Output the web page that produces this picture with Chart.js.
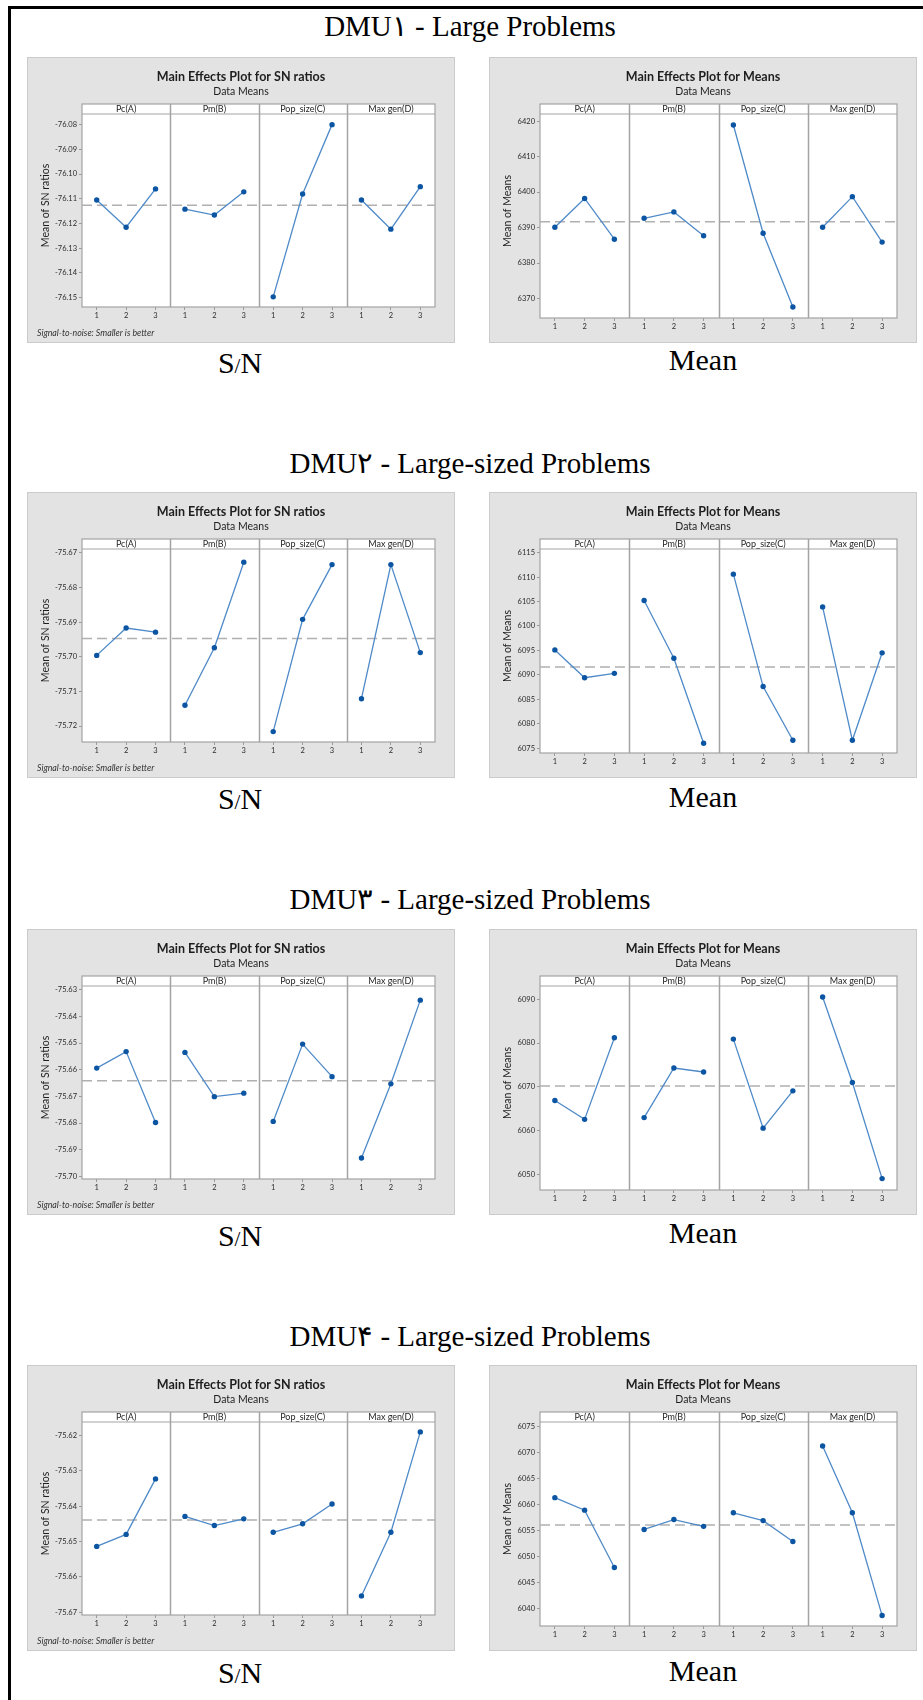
<!DOCTYPE html>
<html>
<head>
<meta charset="utf-8">
<script src="https://cdn.jsdelivr.net/npm/chart.js@4.4.1/dist/chart.umd.min.js"></script>
<style>
	body { margin: 0; background: #fff; width: 923px; height: 1700px; position: relative; overflow: hidden; font-family: 'Liberation Serif', 'Times New Roman', serif; }
	.frame { position: absolute; left: 8px; top: 6px; width: 940px; height: 1720px; border-top: 3px solid #000; border-left: 3px solid #000; }
	.head { position: absolute; left: 0; width: 940px; text-align: center; font-size: 29px; line-height: 30px; color: #000; }
	.lab { position: absolute; width: 200px; text-align: center; font-size: 30px; line-height: 30px; color: #000; }
	.lab small { font-size: 21px; }
	canvas { position: absolute; }
</style>
</head>
<body>
<div class="frame"></div>

<div class="head" style="top:11px">DMU۱ - Large Problems</div>
<div class="head" style="top:448px">DMU۲ - Large-sized Problems</div>
<div class="head" style="top:884px">DMU۳ - Large-sized Problems</div>
<div class="head" style="top:1321px">DMU۴ - Large-sized Problems</div>

<div class="lab" style="left:140px;top:348px">S<small>/</small>N</div>
<div class="lab" style="left:603px;top:345px">Mean</div>
<div class="lab" style="left:140px;top:784px">S<small>/</small>N</div>
<div class="lab" style="left:603px;top:782px">Mean</div>
<div class="lab" style="left:140px;top:1221px">S<small>/</small>N</div>
<div class="lab" style="left:603px;top:1218px">Mean</div>
<div class="lab" style="left:140px;top:1658px">S<small>/</small>N</div>
<div class="lab" style="left:603px;top:1656px">Mean</div>

<canvas id="sn1" width="428" height="286" style="left:27px;top:57px"></canvas>
<canvas id="mean1" width="428" height="286" style="left:489px;top:57px"></canvas>
<canvas id="sn2" width="428" height="286" style="left:27px;top:492px"></canvas>
<canvas id="mean2" width="428" height="286" style="left:489px;top:492px"></canvas>
<canvas id="sn3" width="428" height="286" style="left:27px;top:929px"></canvas>
<canvas id="mean3" width="428" height="286" style="left:489px;top:929px"></canvas>
<canvas id="sn4" width="428" height="286" style="left:27px;top:1365px"></canvas>
<canvas id="mean4" width="428" height="286" style="left:489px;top:1365px"></canvas>

<script>
const factors = ['Pc(A)', 'Pm(B)', 'Pop_size(C)', 'Max gen(D)'];
const levels = ['1', '2', '3'];

// values per panel: A1 A2 A3, B1 B2 B3, C1 C2 C3, D1 D2 D3
const dmu1Sn = [-76.1105, -76.1215, -76.1060, -76.1142, -76.1166, -76.1072, -76.1497, -76.1081, -76.0800, -76.1105, -76.1223, -76.1051];
const dmu1Mean = [6390.1, 6398.2, 6386.7, 6392.6, 6394.4, 6387.7, 6418.9, 6388.4, 6367.6, 6390.1, 6398.7, 6385.9];
const dmu2Sn = [-75.6996, -75.6917, -75.6929, -75.7140, -75.6974, -75.6727, -75.7216, -75.6892, -75.6734, -75.7121, -75.6734, -75.6988];
const dmu2Mean = [6095.1, 6089.4, 6090.3, 6105.2, 6093.4, 6076.0, 6110.6, 6087.6, 6076.6, 6103.9, 6076.6, 6094.5];
const dmu3Sn = [-75.6594, -75.6532, -75.6798, -75.6535, -75.6701, -75.6688, -75.6794, -75.6504, -75.6626, -75.6931, -75.6653, -75.6339];
const dmu3Mean = [6066.9, 6062.6, 6081.2, 6063.0, 6074.3, 6073.4, 6080.9, 6060.6, 6069.1, 6090.5, 6071.0, 6049.1];
const dmu4Sn = [-75.6514, -75.6480, -75.6323, -75.6429, -75.6455, -75.6436, -75.6474, -75.6450, -75.6394, -75.6654, -75.6474, -75.6190];
const dmu4Mean = [6061.3, 6058.9, 6047.9, 6055.2, 6057.1, 6055.8, 6058.4, 6056.9, 6052.9, 6071.2, 6058.4, 6038.7];

const sn1Ticks = [-76.15, -76.14, -76.13, -76.12, -76.11, -76.10, -76.09, -76.08];
const mean1Ticks = [6370, 6380, 6390, 6400, 6410, 6420];
const sn2Ticks = [-75.72, -75.71, -75.70, -75.69, -75.68, -75.67];
const mean2Ticks = [6075, 6080, 6085, 6090, 6095, 6100, 6105, 6110, 6115];
const sn3Ticks = [-75.70, -75.69, -75.68, -75.67, -75.66, -75.65, -75.64, -75.63];
const mean3Ticks = [6050, 6060, 6070, 6080, 6090];
const sn4Ticks = [-75.67, -75.66, -75.65, -75.64, -75.63, -75.62];
const mean4Ticks = [6040, 6045, 6050, 6055, 6060, 6065, 6070, 6075];

const FONT = 'Lato';
Chart.defaults.font.family = FONT;

const panelDecor = {
	id: 'panelDecor',
	beforeDraw(chart) {
		const { ctx, chartArea: a, width, height } = chart;
		ctx.save();
		ctx.fillStyle = '#e3e3e3';
		ctx.fillRect(0, 0, width, height);
		ctx.strokeStyle = '#cbcbcb';
		ctx.lineWidth = 1;
		ctx.strokeRect(0.5, 0.5, width - 1, height - 1);
		ctx.fillStyle = '#fff';
		ctx.fillRect(a.left, a.top - 10, a.right - a.left, a.bottom - a.top + 10);
		ctx.restore();
	},
	beforeDatasetsDraw(chart) {
		const { ctx, chartArea: a, scales } = chart;
		ctx.save();
		ctx.strokeStyle = '#a3a3a3';
		ctx.lineWidth = 1.5;
		[3.5, 6.5, 9.5].forEach((v) => {
			const x = Math.round(scales.x.getPixelForValue(v)) + 0.5;
			ctx.beginPath();
			ctx.moveTo(x, a.top - 10);
			ctx.lineTo(x, a.bottom);
			ctx.stroke();
		});
		ctx.lineWidth = 1.2;
		ctx.strokeRect(a.left, a.top - 10, a.right - a.left, a.bottom - a.top + 10);
		ctx.beginPath();
		ctx.moveTo(a.left, a.top);
		ctx.lineTo(a.right, a.top);
		ctx.stroke();

		ctx.fillStyle = '#1e1e1e';
		ctx.font = `9px ${FONT}`;
		ctx.textAlign = 'center';
		ctx.textBaseline = 'middle';
		factors.forEach((f, i) => {
			ctx.fillText(f, scales.x.getPixelForValue(i * 3 + 2), a.top - 4.5);
		});
		ctx.restore();
	},
	afterDraw(chart) {
		const { ctx, chartArea: a, width } = chart;
		const o = chart.options.plugins.panelDecor;
		ctx.save();
		ctx.fillStyle = '#1e1e1e';
		ctx.textAlign = 'center';
		ctx.textBaseline = 'alphabetic';
		ctx.font = `bold 12.5px ${FONT}`;
		ctx.fillText(o.title, width / 2, 24);
		ctx.font = `10.5px ${FONT}`;
		ctx.fillText('Data Means', width / 2, 38);

		ctx.translate(o.yTitleX, (a.top - 10 + a.bottom) / 2);
		ctx.rotate(-Math.PI / 2);
		ctx.textBaseline = 'middle';
		ctx.font = `10.5px ${FONT}`;
		ctx.fillText(o.yTitle, 0, 0);
		ctx.restore();

		if (o.note) {
			ctx.save();
			ctx.fillStyle = '#333';
			ctx.font = `italic 8.8px ${FONT}`;
			ctx.textBaseline = 'middle';
			ctx.fillText(o.note, 10, 276);
			ctx.restore();
		}
	},
};

function makePanel(id, values, yTicks, yMin, yMax, isSn) {
	const grand = values.reduce((s, v) => s + v, 0) / values.length;
	const xTicks = factors.flatMap((_, i) => levels.map((_, j) => i * 3 + j + 1));

	const datasets = factors.map((f, i) => ({
		label: f,
		data: levels.map((_, j) => ({ x: i * 3 + j + 1, y: values[i * 3 + j] })),
		borderColor: '#4f8ac8',
		borderWidth: 1.3,
		pointBackgroundColor: '#0b55a3',
		pointBorderColor: '#0b55a3',
		pointRadius: 2.7,
		pointBorderWidth: 0,
		tension: 0,
		clip: false,
	}));
	datasets.push({
		label: 'Mean',
		data: [{ x: 0.5, y: grand }, { x: 12.5, y: grand }],
		borderColor: '#b0b0b0',
		borderWidth: 1.6,
		borderDash: [10, 5],
		pointRadius: 0,
	});

	const tickFont = { size: 7.5 };
	return new Chart(document.getElementById(id), {
		type: 'line',
		data: { datasets },
		plugins: [panelDecor],
		options: {
			responsive: false,
			animation: false,
			devicePixelRatio: 1,
			layout: { padding: { top: 57, right: 20, left: isSn ? 15 : 11, bottom: isSn ? 20 : 9 } },
			plugins: {
				legend: { display: false },
				tooltip: { enabled: false },
				panelDecor: {
					title: isSn ? 'Main Effects Plot for SN ratios' : 'Main Effects Plot for Means',
					yTitle: isSn ? 'Mean of SN ratios' : 'Mean of Means',
					yTitleX: 19,
					note: isSn ? 'Signal-to-noise: Smaller is better' : null,
				},
			},
			scales: {
				x: {
					type: 'linear',
					min: 0.5,
					max: 12.5,
					afterBuildTicks: (s) => { s.ticks = xTicks.map((v) => ({ value: v })); },
					afterFit: (s) => { s.height = 16; },
					ticks: {
						autoSkip: false,
						maxRotation: 0,
						padding: 1,
						color: '#2b2b2b',
						font: tickFont,
						callback: (v) => levels[(v - 1) % 3],
					},
					grid: { drawOnChartArea: false, tickLength: 3, color: '#9a9a9a' },
					border: { display: false },
				},
				y: {
					min: yMin,
					max: yMax,
					afterBuildTicks: (s) => { s.ticks = yTicks.map((v) => ({ value: v })); },
					afterFit: (s) => { s.width = 40; },
					ticks: {
						autoSkip: false,
						padding: 2,
						color: '#2b2b2b',
						font: tickFont,
						callback: (v) => (isSn ? v.toFixed(2) : String(v)),
					},
					grid: { drawOnChartArea: false, tickLength: 3, color: '#9a9a9a' },
					border: { display: false },
				},
			},
		},
	});
}

makePanel('sn1', dmu1Sn, sn1Ticks, -76.1538, -76.0757, true);
makePanel('mean1', dmu1Mean, mean1Ticks, 6364.5, 6422.0, false);
makePanel('sn2', dmu2Sn, sn2Ticks, -75.7246, -75.6689, true);
makePanel('mean2', dmu2Mean, mean2Ticks, 6074.0, 6115.75, false);
makePanel('sn3', dmu3Sn, sn3Ticks, -75.7010, -75.6286, true);
makePanel('mean3', dmu3Mean, mean3Ticks, 6046.5, 6093.0, false);
makePanel('sn4', dmu4Sn, sn4Ticks, -75.6708, -75.6162, true);
makePanel('mean4', dmu4Mean, mean4Ticks, 6036.7, 6075.8, false);
</script>
</body>
</html>
